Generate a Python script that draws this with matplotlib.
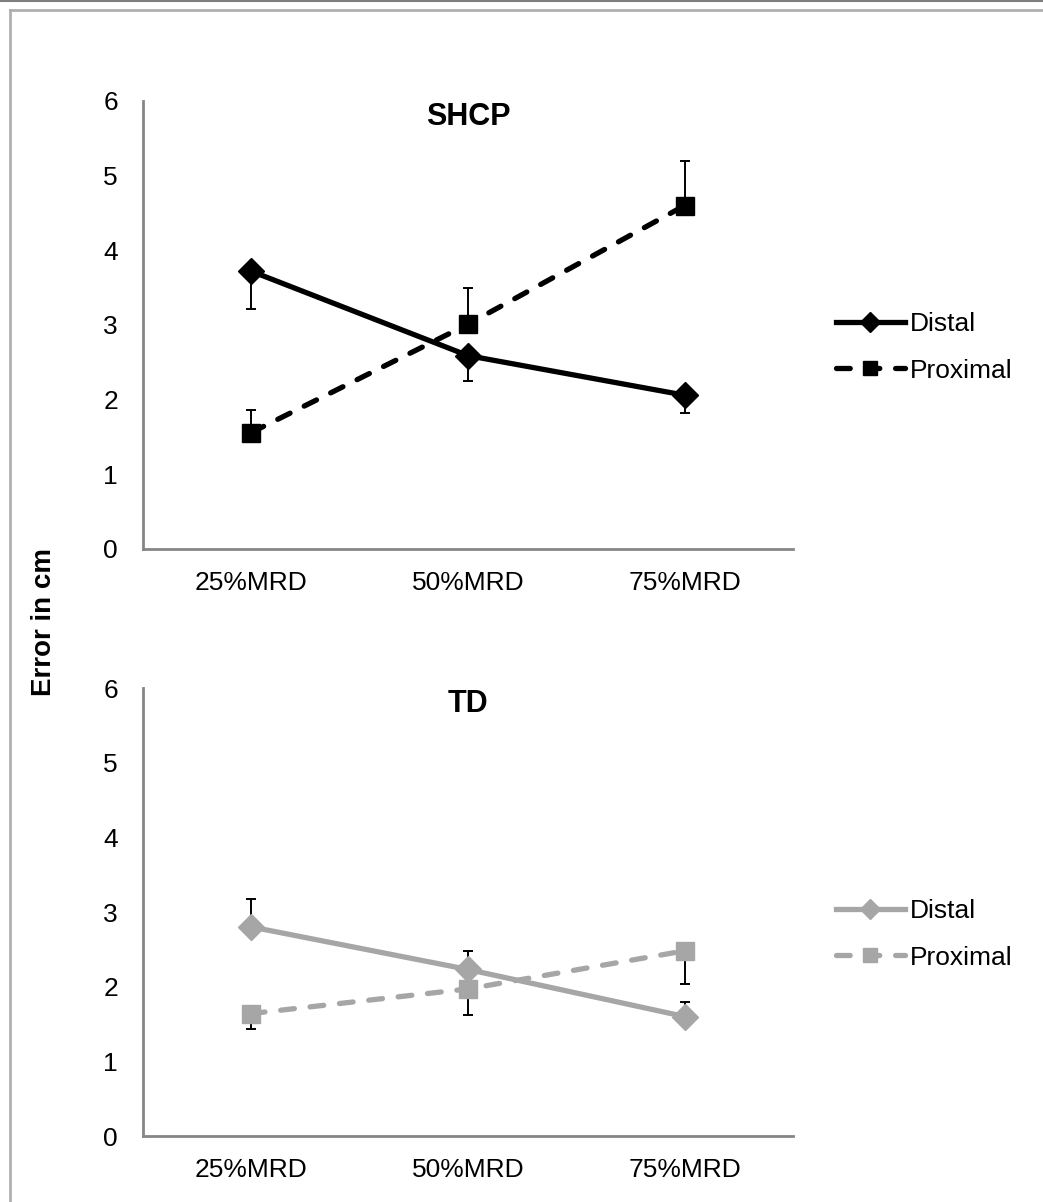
import matplotlib.pyplot as plt
from matplotlib.lines import Line2D

plt.rcParams['font.family'] = ['Liberation Sans', 'DejaVu Sans']

# Data
categories = ['25%MRD', '50%MRD', '75%MRD']

shcp_distal = [3.72, 2.59, 2.06]
shcp_distal_err = [0.51, 0.34, 0.24]      # drawn downward
shcp_proximal = [1.56, 3.01, 4.60]
shcp_proximal_err = [0.30, 0.49, 0.60]    # drawn upward

td_distal = [2.80, 2.23, 1.60]
td_distal_err = [0.38, 0.25, 0.19]        # drawn upward
td_proximal = [1.64, 1.97, 2.48]
td_proximal_err = [0.21, 0.35, 0.44]      # drawn downward

fig = plt.figure(figsize=(10.43, 12.02), dpi=100)

# frame lines of the original picture
fig.add_artist(Line2D([0, 1], [0.9995, 0.9995], transform=fig.transFigure, color='#7f7f7f', lw=1.5))
fig.add_artist(Line2D([10 / 1043, 1], [1 - 10 / 1202, 1 - 10 / 1202], transform=fig.transFigure, color='#b0b0b0', lw=2))
fig.add_artist(Line2D([10 / 1043, 10 / 1043], [0, 1 - 10 / 1202], transform=fig.transFigure, color='#b0b0b0', lw=2))

ax1 = fig.add_axes([143 / 1043, 1 - 549 / 1202, 650 / 1043, 448 / 1202])
ax2 = fig.add_axes([143 / 1043, 1 - 1136 / 1202, 650 / 1043, 448 / 1202])

x = list(range(len(categories)))


def draw_panel(ax, title, distal, distal_err, proximal, proximal_err,
               color, distal_dir, proximal_dir):
    # one-sided error bars
    def errs(e, d):
        z = [0] * len(e)
        return [e, z] if d == 'down' else [z, e]

    ax.errorbar(x, distal, yerr=errs(distal_err, distal_dir), fmt='none',
                ecolor='black', elinewidth=1.4, capsize=3.5, capthick=1.4, zorder=2)
    ax.errorbar(x, proximal, yerr=errs(proximal_err, proximal_dir), fmt='none',
                ecolor='black', elinewidth=1.4, capsize=3.5, capthick=1.4, zorder=2)
    ax.plot(x, distal, color=color, lw=3.8, marker='D', markersize=13,
            label='Distal', zorder=3)
    ax.plot(x, proximal, color=color, lw=3.8, dashes=(2.6, 3.0),
            dash_capstyle='round', marker='s', markersize=13,
            label='Proximal', zorder=3)

    ax.set_xlim(-0.5, 2.5)
    ax.set_ylim(0, 6)
    ax.set_yticks(range(0, 7))
    ax.set_xticks(x)
    ax.set_xticklabels(categories)
    ax.tick_params(length=0, labelsize=19)
    ax.tick_params(axis='x', pad=16)
    ax.tick_params(axis='y', pad=18)
    for s in ['top', 'right']:
        ax.spines[s].set_visible(False)
    for s in ['left', 'bottom']:
        ax.spines[s].set_color('#868686')
        ax.spines[s].set_linewidth(2)
    ax.text(0.5, 0.965, title, transform=ax.transAxes, ha='center', va='center',
            fontsize=22, fontweight='bold')
    ax.legend(loc='center left', bbox_to_anchor=(1.05, 0.45), frameon=False,
              fontsize=19, handlelength=2.6, handletextpad=0.2, labelspacing=0.85,
              markerscale=0.8, borderaxespad=0)


draw_panel(ax1, 'SHCP', shcp_distal, shcp_distal_err, shcp_proximal,
           shcp_proximal_err, 'black', 'down', 'up')
draw_panel(ax2, 'TD', td_distal, td_distal_err, td_proximal,
           td_proximal_err, '#a6a6a6', 'up', 'down')

fig.text(44 / 1043, 1 - 622 / 1202, 'Error in cm', rotation=90, ha='center',
         va='center', fontsize=20, fontweight='bold')

fig.savefig('out.png', dpi=100)
